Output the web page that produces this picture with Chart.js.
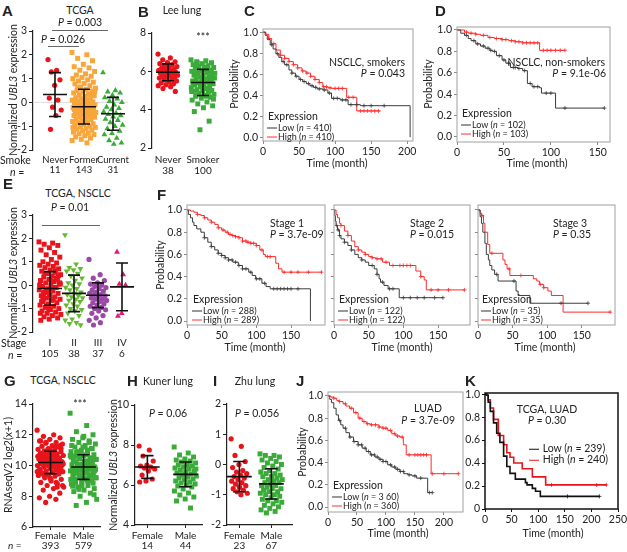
<!DOCTYPE html>
<html>
<head>
<meta charset="utf-8">
<script src="https://cdn.jsdelivr.net/npm/chart.js@4.4.0/dist/chart.umd.min.js"></script>
<style>
  body { margin: 0; background: #fff; }
  #fig { position: relative; width: 627px; height: 552px; overflow: hidden; font-family: Lato, 'Open Sans', sans-serif; color: #222; }
  #fig canvas { position: absolute; }
  .t { position: absolute; white-space: nowrap; font-size: 10.5px; line-height: 1; }
  .pl { font-family: 'Liberation Sans', Arial, sans-serif; font-weight: bold; font-size: 15px; }
  .lg { font-size: 9px; }
  .bar { position: absolute; height: 0; border-top: 1.4px solid #666; }
  .sw { display: inline-block; width: 10px; height: 0; border-top: 1px solid #333; vertical-align: middle; margin-right: 1px; }
</style>
</head>
<body>
<div id="fig"></div>
<script>
// ---- dot plots ----
const A_never = [1.8, 1.35, 1.28, 0.95, 0.72, 0.18, 0.1, -0.2, -0.32, -0.55, -1.13];
const A_former = [2.1, 2.0, 1.85, 1.75, 1.6, 1.5, 1.45, 1.35, 1.3, 1.2, 1.15, 1.1, 1.05, 1.0, 0.95, 0.9, 0.85, 0.8, 0.78, 0.7,
  0.65, 0.6, 0.55, 0.5, 0.48, 0.45, 0.4, 0.35, 0.3, 0.28, 0.25, 0.2, 0.18, 0.15, 0.1, 0.08, 0.05, 0.02, 0, -0.02,
  -0.05, -0.08, -0.1, -0.12, -0.15, -0.18, -0.2, -0.22, -0.25, -0.28, -0.3, -0.32, -0.35, -0.38, -0.4, -0.42, -0.45,
  -0.48, -0.5, -0.52, -0.55, -0.58, -0.6, -0.62, -0.65, -0.7, -0.72, -0.75, -0.8, -0.82, -0.85, -0.9, -0.92, -0.95,
  -1.0, -1.02, -1.05, -1.1, -1.12, -1.15, -1.2, -1.25, -1.3, -1.32, -1.35, -1.4, -1.45, -1.5, -1.55, -1.6, -1.7,
  0.6, 0.3, 0.0, -0.3, -0.6, -0.9, 0.45, 0.15, -0.15, -0.45, -0.75, -1.05];
const A_current = [1.25, 0.5, 0.45, 0.4, 0.3, 0.2, 0.15, 0.05, 0, -0.1, -0.2, -0.25, -0.3, -0.4, -0.45, -0.5, -0.55,
  -0.6, -0.7, -0.75, -0.85, -0.95, -1.0, -1.1, -1.2, -1.3, -1.35, -1.5, -1.6, -1.7, -1.75];
const A_mean = [0.33, -0.18, -0.48];
const A_sd = [0.92, 0.73, 0.69];

const B_never = [6.9, 6.7, 6.6, 6.5, 6.45, 6.4, 6.35, 6.3, 6.25, 6.2, 6.15, 6.1, 6.1, 6.05, 6.0, 6.0, 5.95, 5.95, 5.9,
  5.9, 5.85, 5.8, 5.8, 5.75, 5.7, 5.7, 5.65, 5.6, 5.55, 5.5, 5.45, 5.4, 5.35, 5.3, 5.25, 5.2, 5.1, 4.95];
const B_smoker = [6.6, 6.55, 6.5, 6.45, 6.4, 6.35, 6.3, 6.25, 6.2, 6.15, 6.1, 6.05, 6.0, 6.0, 5.95, 5.9, 5.85, 5.8,
  5.8, 5.75, 5.7, 5.65, 5.6, 5.6, 5.55, 5.5, 5.5, 5.45, 5.4, 5.35, 5.3, 5.3, 5.25, 5.2, 5.15, 5.1, 5.05, 5.0, 5.0,
  4.95, 4.9, 4.85, 4.8, 4.75, 4.7, 4.65, 4.6, 4.5, 4.4, 4.3, 4.2, 4.1, 3.9, 3.4, 2.95, 5.9, 6.1, 6.3, 6.0, 5.7, 5.4,
  5.1, 4.8, 4.55, 6.2, 5.85, 5.55, 5.25, 4.95, 4.7, 6.45, 5.65, 5.35];
const B_mean = [5.95, 5.42];
const B_sd = [0.44, 0.68];

const E_s1 = [1.85, 1.8, 1.75, 1.7, 1.6, 1.5, 1.4, 1.3, 1.2, 1.1, 1.0, 0.95, 0.9, 0.85, 0.8, 0.75, 0.7, 0.65, 0.6,
  0.55, 0.5, 0.45, 0.4, 0.35, 0.3, 0.25, 0.2, 0.15, 0.1, 0.05, 0, -0.05, -0.1, -0.15, -0.2, -0.25, -0.3, -0.35,
  -0.4, -0.45, -0.5, -0.55, -0.6, -0.65, -0.7, -0.75, -0.8, -0.85, -0.9, -0.95, -1.0, -1.05, -1.1, -1.15, -1.2,
  -1.25, -1.3, -1.35, -1.4, -1.45, -1.5, -0.1, -0.2, 0.1, 0.2, -0.5, 0.3, -0.3, 0.0, -0.6, 0.5, 0.4, -0.4, -0.7,
  0.6, -0.9, 0.05, -0.15, -0.35, 0.25, -1.0, -1.2];
const E_s2 = [2.15, 0.9, 0.75, 0.7, 0.65, 0.6, 0.5, 0.4, 0.3, 0.2, 0.1, 0.05, 0, -0.1, -0.15, -0.2, -0.3, -0.35,
  -0.4, -0.45, -0.5, -0.55, -0.6, -0.65, -0.7, -0.8, -0.85, -0.9, -1.0, -1.05, -1.1, -1.2, -1.3, -1.45, -1.5,
  -1.6, -1.65, -1.7];
const E_s3 = [1.1, 0.45, 0.3, 0.2, 0.1, 0.05, 0, -0.05, -0.1, -0.15, -0.2, -0.25, -0.3, -0.35, -0.4, -0.4, -0.45,
  -0.5, -0.55, -0.6, -0.6, -0.65, -0.7, -0.75, -0.8, -0.85, -0.9, -0.95, -1.0, -1.05, -1.1, -1.2, -1.3, -1.4,
  -1.5, -1.6, -1.7];
const E_s4 = [1.42, 0.45, 0.05, 0.0, -1.2, -1.32];
const E_mean = [-0.14, -0.35, -0.43, -0.07];
const E_sd = [0.72, 0.78, 0.53, 1.02];

const G_female = [12.3, 12.0, 11.9, 11.8, 11.7, 11.6, 11.5, 11.45, 11.4, 11.3, 11.25, 11.2, 11.1, 11.05, 11.0, 10.95,
  10.9, 10.85, 10.8, 10.75, 10.7, 10.65, 10.6, 10.55, 10.5, 10.45, 10.4, 10.35, 10.3, 10.25, 10.2, 10.15, 10.1,
  10.05, 10.0, 9.95, 9.9, 9.85, 9.8, 9.75, 9.7, 9.65, 9.6, 9.55, 9.5, 9.45, 9.4, 9.35, 9.3, 9.2, 9.1, 9.0, 8.9,
  8.8, 8.7, 8.6, 8.5, 8.4, 8.2, 8.0, 7.9, 7.8, 7.6, 10.2, 10.3, 10.1, 10.4, 10.0, 10.6, 9.9, 10.7, 9.8, 11.0, 9.6,
  10.5, 10.3, 10.1, 9.9, 10.5, 9.7, 10.8, 9.5, 11.2, 9.3, 10.0, 10.2, 10.4, 9.8, 10.6, 9.6, 10.9, 9.4, 11.3, 9.2,
  10.7, 8.9, 11.5, 8.7, 10.15, 10.35, 9.85, 10.55, 9.65, 10.25, 10.05, 11.1, 9.1, 11.6, 8.6, 10.45];
const G_male = [13.4, 12.6, 12.2, 12.0, 11.8, 11.7, 11.6, 11.5, 11.4, 11.3, 11.2, 11.1, 11.0, 10.9, 10.85, 10.8,
  10.7, 10.65, 10.6, 10.5, 10.45, 10.4, 10.3, 10.25, 10.2, 10.1, 10.05, 10.0, 9.95, 9.9, 9.85, 9.8, 9.75, 9.7,
  9.65, 9.6, 9.55, 9.5, 9.45, 9.4, 9.35, 9.3, 9.2, 9.15, 9.1, 9.0, 8.9, 8.8, 8.7, 8.6, 8.5, 8.4, 8.3, 8.2, 8.0,
  7.8, 7.6, 7.4, 9.9, 10.0, 9.8, 10.2, 9.7, 10.4, 9.5, 10.6, 9.3, 10.8, 9.1, 11.0, 10.1, 9.9, 9.6, 10.3, 9.4, 10.5,
  9.2, 10.7, 8.9, 11.1, 8.7, 11.3, 9.85, 10.05, 9.65, 10.25, 9.45, 10.45, 9.25, 10.65, 9.05, 10.85, 8.85, 11.2,
  8.65, 11.5, 8.45, 9.75, 10.15, 9.55, 10.35, 9.35, 10.55, 9.0, 10.9, 8.1, 11.9];
const G_mean = [10.2, 9.9];
const G_sd = [0.73, 0.8];

const H_female = [7.95, 7.75, 7.45, 7.2, 7.0, 6.95, 6.9, 6.85, 6.8, 6.7, 6.5, 6.3, 6.2, 6.15];
const H_male = [7.9, 7.6, 7.5, 7.4, 7.3, 7.25, 7.2, 7.15, 7.1, 7.05, 7.0, 6.95, 6.9, 6.85, 6.8, 6.75, 6.7, 6.65,
  6.6, 6.55, 6.5, 6.45, 6.4, 6.35, 6.3, 6.25, 6.2, 6.15, 6.1, 6.05, 6.0, 5.95, 5.9, 5.8, 5.7, 5.6, 5.5, 5.4, 5.3,
  5.2, 4.85, 6.5, 6.8, 7.0];
const H_mean = [6.9, 6.53];
const H_sd = [0.57, 0.62];

const I_female = [0.85, 0.6, 0.3, 0.1, 0.0, -0.1, -0.2, -0.25, -0.3, -0.35, -0.4, -0.45, -0.5, -0.55, -0.6, -0.65,
  -0.7, -0.75, -0.8, -0.85, -0.9, -0.95, -1.0];
const I_male = [0.35, 0.3, 0.3, 0.25, 0.2, 0.15, 0.1, 0.05, 0, -0.05, -0.1, -0.15, -0.2, -0.25, -0.3, -0.3, -0.35,
  -0.4, -0.4, -0.45, -0.5, -0.5, -0.55, -0.6, -0.6, -0.65, -0.7, -0.7, -0.75, -0.8, -0.8, -0.85, -0.9, -0.9, -0.95,
  -1.0, -1.0, -1.05, -1.1, -1.15, -1.2, -1.2, -1.25, -1.3, -1.35, -1.4, -1.45, -1.5, -1.55, -1.6];
const I_mean = [-0.4, -0.64];
const I_sd = [0.5, 0.5];

// ---- Kaplan-Meier curves: time (month) and survival from that time on ----
const C_low_t = [0, 3, 6, 10, 14, 18, 22, 26, 30, 36, 40, 45, 50, 55, 60, 65, 70, 75, 83, 90, 95, 107, 118, 135, 204];
const C_low_s = [1, 0.97, 0.93, 0.88, 0.84, 0.795, 0.76, 0.72, 0.69, 0.64, 0.61, 0.58, 0.55, 0.53, 0.51, 0.49, 0.475, 0.46, 0.45, 0.42, 0.37, 0.355, 0.31, 0.3, 0];
const C_low_cens = [12, 20, 28, 33, 40, 46, 52, 57, 63, 68, 73, 78, 85, 92, 98, 103, 110, 115, 122, 130, 140, 150, 168];
const C_high_t = [0, 4, 8, 12, 18, 24, 30, 36, 42, 48, 54, 60, 66, 72, 78, 83, 90, 95, 116, 130, 163];
const C_high_s = [1, 0.98, 0.94, 0.89, 0.83, 0.78, 0.75, 0.72, 0.69, 0.66, 0.63, 0.61, 0.58, 0.55, 0.52, 0.48, 0.47, 0.465, 0.38, 0.25, 0.25];
const C_high_cens = [8, 15, 24, 30, 36, 42, 48, 55, 61, 66, 72, 78, 84, 88, 93, 100, 105, 110, 119, 125, 135, 140, 145, 150, 155, 160];

const D_low_t = [0, 4, 8, 12, 15, 20, 25, 30, 35, 38, 42, 48, 52, 57, 65, 70, 75, 80, 88, 90, 105, 157];
const D_low_s = [1, 0.97, 0.95, 0.92, 0.9, 0.87, 0.85, 0.83, 0.81, 0.8, 0.76, 0.72, 0.69, 0.65, 0.64, 0.62, 0.5, 0.47, 0.46, 0.41, 0.27, 0.27];
const D_low_cens = [10, 18, 22, 28, 33, 36, 40, 45, 50, 55, 60, 62, 66, 72, 78, 82, 86, 95, 100, 115, 157];
const D_high_t = [0, 8, 12, 20, 25, 33, 40, 48, 55, 62, 70, 88, 115];
const D_high_s = [1, 0.98, 0.97, 0.96, 0.95, 0.93, 0.92, 0.91, 0.9, 0.89, 0.88, 0.81, 0.81];
const D_high_cens = [10, 15, 20, 28, 35, 42, 48, 52, 58, 62, 66, 70, 74, 78, 82, 86, 92, 96, 100, 105, 110, 115];

const F1_low_t = [0, 2, 5, 8, 10, 14, 20, 25, 30, 35, 40, 45, 50, 55, 60, 66, 74, 80, 89, 94, 99, 108, 114, 120, 178];
const F1_low_s = [1, 0.96, 0.93, 0.89, 0.86, 0.83, 0.8, 0.75, 0.71, 0.67, 0.64, 0.61, 0.59, 0.57, 0.55, 0.53, 0.5, 0.47, 0.44, 0.41, 0.38, 0.34, 0.31, 0.29, 0];
const F1_low_cens = [25, 35, 45, 50, 55, 60, 65, 70, 75, 80, 85, 92, 100, 105, 112, 125, 130, 135, 140, 145, 150, 160];
const F1_high_t = [0, 5, 10, 15, 20, 25, 30, 35, 40, 45, 50, 55, 60, 65, 70, 75, 80, 86, 92, 100, 105, 110, 113, 128, 132, 137, 194];
const F1_high_s = [1, 0.99, 0.98, 0.96, 0.95, 0.93, 0.91, 0.89, 0.87, 0.84, 0.82, 0.8, 0.78, 0.77, 0.76, 0.75, 0.72, 0.71, 0.7, 0.68, 0.64, 0.6, 0.58, 0.52, 0.47, 0.44, 0.44];
const F1_high_cens = [15, 25, 35, 45, 52, 58, 62, 66, 70, 75, 80, 85, 88, 92, 96, 100, 108, 116, 120, 140, 150, 160, 175, 194];

const F2_low_t = [0, 1, 2, 3, 5, 8, 10, 15, 20, 25, 30, 35, 40, 45, 50, 58, 62, 65, 67, 72, 78, 94, 157];
const F2_low_s = [1, 0.95, 0.9, 0.86, 0.82, 0.77, 0.74, 0.71, 0.68, 0.64, 0.6, 0.57, 0.55, 0.53, 0.5, 0.47, 0.42, 0.38, 0.35, 0.32, 0.29, 0.21, 0.21];
const F2_low_cens = [4, 6, 8, 15, 25, 40, 55, 62, 70, 80, 85, 100, 110, 120, 130, 145, 157];
const F2_high_t = [0, 3, 5, 8, 10, 15, 20, 25, 30, 35, 40, 45, 50, 55, 60, 70, 80, 118, 125, 130, 133, 188];
const F2_high_s = [1, 0.96, 0.93, 0.88, 0.86, 0.81, 0.77, 0.72, 0.67, 0.64, 0.62, 0.6, 0.58, 0.57, 0.56, 0.53, 0.5, 0.45, 0.4, 0.37, 0.28, 0.28];
const F2_high_cens = [10, 20, 35, 45, 55, 62, 68, 75, 85, 95, 100, 105, 110, 125, 140, 150, 165, 188];

const F3_low_t = [0, 3, 5, 7, 10, 12, 15, 17, 20, 24, 29, 55, 58, 75, 159];
const F3_low_s = [1, 0.94, 0.88, 0.8, 0.7, 0.6, 0.55, 0.5, 0.46, 0.42, 0.36, 0.27, 0.23, 0.16, 0.16];
const F3_low_cens = [27, 52, 120, 159];
const F3_high_t = [0, 3, 5, 8, 10, 14, 17, 36, 39, 42, 46, 80, 85, 89, 95, 101, 106, 123, 191];
const F3_high_s = [1, 0.97, 0.95, 0.88, 0.8, 0.69, 0.61, 0.55, 0.51, 0.47, 0.41, 0.38, 0.36, 0.33, 0.3, 0.27, 0.23, 0.08, 0.08];
const F3_high_cens = [6, 20, 45, 62, 90, 95, 191];

const J_low_t = [0, 3, 6, 10, 14, 18, 22, 26, 31, 37, 44, 52, 59, 66, 73, 81, 88, 95, 103, 110, 117, 124, 131, 138, 145, 153, 172, 180];
const J_low_s = [1, 0.97, 0.94, 0.89, 0.83, 0.78, 0.74, 0.71, 0.67, 0.63, 0.59, 0.56, 0.53, 0.5, 0.47, 0.45, 0.43, 0.41, 0.38, 0.36, 0.34, 0.32, 0.3, 0.29, 0.28, 0.26, 0.13, 0.13];
const J_low_cens = [20, 30, 38, 45, 52, 58, 64, 70, 75, 80, 85, 90, 95, 100, 108, 115, 120, 125, 130, 140, 150, 160, 175, 180];
const J_high_t = [0, 5, 10, 15, 20, 26, 31, 37, 44, 52, 59, 66, 73, 81, 88, 95, 103, 110, 117, 124, 130, 135, 178, 225];
const J_high_s = [1, 0.99, 0.98, 0.96, 0.95, 0.93, 0.91, 0.89, 0.85, 0.8, 0.77, 0.75, 0.74, 0.74, 0.72, 0.71, 0.69, 0.66, 0.64, 0.63, 0.56, 0.47, 0.3, 0.3];
const J_high_cens = [10, 20, 30, 40, 48, 55, 62, 68, 75, 82, 88, 95, 100, 108, 115, 120, 128, 140, 150, 155, 160, 165, 170, 180, 200, 225];

const K_low_t = [0, 3, 6, 10, 16, 22, 28, 35, 41, 47, 57, 76, 79, 89, 95, 104, 215];
const K_low_s = [1, 0.99, 0.93, 0.85, 0.75, 0.66, 0.58, 0.46, 0.37, 0.31, 0.26, 0.23, 0.21, 0.18, 0.155, 0.11, 0.11];
const K_low_cens = [155, 215];
const K_high_t = [0, 3, 6, 10, 16, 25, 35, 41, 47, 54, 70, 89, 114, 228];
const K_high_s = [1, 0.99, 0.95, 0.88, 0.78, 0.64, 0.56, 0.49, 0.45, 0.4, 0.35, 0.28, 0.21, 0.21];
const K_high_cens = [125, 210, 228];

const KM_YTICKS = [0, 0.2, 0.4, 0.6, 0.8, 1.0];
const KM_XTICKS = [0, 50, 100, 150, 200, 250];

const RED = '#e8141c', GREEN = '#3aab38', ORANGE = '#f8a53a';
const KM_LOW = '#3c3c3c', KM_HIGH = '#ff2a2a';

Chart.defaults.font.family = "Lato, 'Open Sans', sans-serif";
Chart.defaults.font.size = 10.5;
Chart.defaults.color = '#222';
Chart.defaults.animation = false;

const fig = document.getElementById('fig');

function note(x, y, html, a, cls, size) {
  const d = document.createElement('div');
  d.className = 't ' + (cls || '');
  d.innerHTML = html;
  d.style.left = x + 'px';
  d.style.top = y + 'px';
  if (size) d.style.fontSize = size + 'px';
  if (a === 'v') d.style.transform = 'translate(-50%,-50%) rotate(-90deg)';
  else d.style.transform = 'translate(' + (a === 'l' ? '0' : a === 'r' ? '-100%' : '-50%') + ',-50%)';
  fig.appendChild(d);
}

function bracket(x1, x2, y) {
  const d = document.createElement('div');
  d.className = 'bar';
  d.style.left = x1 + 'px';
  d.style.top = y + 'px';
  d.style.width = (x2 - x1) + 'px';
  fig.appendChild(d);
}

function legend(x, y, low, high) {
  note(x, y, 'Expression', 'l');
  note(x - 1, y + 11, '<span class="sw"></span>Low (<i>n</i> = ' + low + ')', 'l', 'lg');
  note(x - 1, y + 20, '<span class="sw" style="border-color:#ff3030"></span>High (<i>n</i> = ' + high + ')', 'l', 'lg');
}

// canvas placed so that its chart area lands on area = [left, top, right, bottom]
function canvasFor(area, pad) {
  const c = document.createElement('canvas');
  const w = area[2] - area[0] + pad[0] + pad[2];
  const h = area[3] - area[1] + pad[1] + pad[3];
  c.width = w; c.height = h;
  c.style.left = (area[0] - pad[0]) + 'px';
  c.style.top = (area[1] - pad[1]) + 'px';
  c.style.width = w + 'px'; c.style.height = h + 'px';
  fig.appendChild(c);
  return c;
}

const framePlugin = {
  id: 'frame',
  afterDatasetsDraw(chart, args, o) {
    if (!o || !o.color) return;
    const { ctx, chartArea: a } = chart;
    ctx.save();
    ctx.strokeStyle = o.color;
    ctx.lineWidth = o.width;
    ctx.strokeRect(a.left, a.top, a.right - a.left, a.bottom - a.top);
    ctx.restore();
  }
};

const radiusFor = { circle: 2.6, rect: 3.5, triangle: 3.4 };

function dotPlot(area, o) {
  const YW = 24, XH = 30;
  const c = canvasFor(area, [YW, 9, 14, XH]);
  const xmin = -(o.p0 - area[0]) / o.u;
  const xmax = xmin + (area[2] - area[0]) / o.u;
  const ds = [];
  o.groups.forEach((vals, g) => {
    const sp = o.spread[g] / o.u;
    ds.push({
      data: vals.map((v, i) => ({ x: g + (((i * 0.618034) % 1) - 0.5) * 2 * sp, y: v })),
      pointStyle: o.shapes[g],
      rotation: o.rot ? o.rot[g] : 0,
      pointRadius: radiusFor[o.shapes[g]],
      backgroundColor: o.colors[g],
      borderColor: o.colors[g],
      borderWidth: 0,
      order: 1
    });
  });
  const eb = [];
  const mw = 12 / o.u, cw = 6 / o.u;
  o.mean.forEach((m, g) => {
    const lo = m - o.sd[g], hi = m + o.sd[g];
    eb.push({ x: g - mw, y: m }, { x: g + mw, y: m }, { x: g, y: null },
            { x: g, y: lo }, { x: g, y: hi }, { x: g, y: null },
            { x: g - cw, y: hi }, { x: g + cw, y: hi }, { x: g, y: null },
            { x: g - cw, y: lo }, { x: g + cw, y: lo }, { x: g, y: null });
  });
  ds.push({ type: 'line', data: eb, borderColor: '#111', borderWidth: 1.6, pointRadius: 0, spanGaps: false, order: 0 });
  if (o.zero) {
    ds.push({ type: 'line', data: [{ x: xmin, y: 0 }, { x: xmax, y: 0 }], borderColor: '#dcdcdc', borderWidth: 1, pointRadius: 0, order: 2 });
  }
  new Chart(c, {
    type: 'scatter',
    data: { datasets: ds },
    options: {
      responsive: false,
      layout: { padding: { top: 9, right: 14 } },
      plugins: { legend: { display: false }, tooltip: { enabled: false } },
      scales: {
        x: {
          type: 'linear', min: xmin, max: o.xaxis ? xmin + (o.axisEnd - area[0]) / o.u : xmax,
          afterBuildTicks: s => { s.ticks = o.labels.map((_, i) => ({ value: i })); },
          afterFit: s => { s.height = XH; },
          ticks: {
            callback: v => o.labels[Math.round(v)], autoSkip: false, maxRotation: 0, padding: o.lpad,
            font: { size: o.xfont || 10, lineHeight: o.xaxis ? 1.0 : 1.15 }
          },
          grid: o.xaxis ? { drawOnChartArea: false, tickLength: 3, color: '#222' } : { display: false, drawTicks: false },
          border: { display: !!o.xaxis, color: '#222', width: 1.2 }
        },
        y: {
          min: o.ymin, max: o.ymax,
          afterFit: s => { s.width = YW; },
          ticks: { stepSize: o.step, padding: 2 },
          grid: { drawOnChartArea: false, tickLength: 4, color: '#222' },
          border: { color: '#222', width: 1.2 }
        }
      }
    }
  });
}

function stepAt(ts, ss, t) {
  let v = ss[0];
  for (let i = 0; i < ts.length; i++) if (ts[i] <= t) v = ss[i];
  return v;
}

function kmPlot(area, o) {
  const YW = 26, XH = 18;
  const c = canvasFor(area, [YW, 9, 14, XH]);
  const ds = [];
  o.curves.forEach(cv => {
    ds.push({
      type: 'line', data: cv.t.map((t, i) => ({ x: t, y: cv.s[i] })), stepped: 'before',
      borderColor: cv.color, borderWidth: o.lw || 1, pointRadius: 0, fill: false, order: 1
    });
    ds.push({
      type: 'scatter', data: cv.cens.map(t => ({ x: t, y: stepAt(cv.t, cv.s, t) })),
      pointStyle: 'cross', pointRadius: 2, borderColor: cv.color, borderWidth: 0.8, order: 0
    });
  });
  const tick = o.tick || '#8a8a8a';
  new Chart(c, {
    type: 'scatter',
    data: { datasets: ds },
    plugins: [framePlugin],
    options: {
      responsive: false,
      layout: { padding: { top: 9, right: 14 } },
      plugins: {
        legend: { display: false }, tooltip: { enabled: false },
        frame: { color: o.frame || '#a0a0a0', width: o.fw || 1 }
      },
      scales: {
        x: {
          min: 0, max: o.xmax,
          afterBuildTicks: s => { s.ticks = KM_XTICKS.filter(v => v <= o.xmax).map(v => ({ value: v })); },
          afterFit: s => { s.height = XH; },
          ticks: { padding: 1, maxRotation: 0, autoSkip: false },
          grid: { drawOnChartArea: false, tickLength: 3, color: tick },
          border: { display: false }
        },
        y: {
          min: o.ymin, max: o.ymax,
          afterBuildTicks: s => { s.ticks = KM_YTICKS.map(v => ({ value: v })); },
          afterFit: s => { s.width = YW; },
          ticks: {
            padding: 2, autoSkip: false,
            callback: v => o.noY ? '' : (o.zero0 && v === 0 ? '0' : v.toFixed(1))
          },
          grid: { drawOnChartArea: false, tickLength: 3, color: tick },
          border: { display: false }
        }
      }
    }
  });
}

// ---- A ----
dotPlot([33, 31, 128, 150], {
  p0: 55, u: 29, ymin: -2, ymax: 3, step: 1, zero: true, lpad: 4, xfont: 9.5,
  groups: [A_never, A_former, A_current], colors: [RED, ORANGE, GREEN], shapes: ['circle', 'rect', 'triangle'],
  spread: [7, 12, 10], mean: A_mean, sd: A_sd,
  labels: [['Never', '11'], ['Former', '143'], ['Current', '31']]
});
note(2, 10, 'A', 'l', 'pl');
note(80, 10, 'TCGA', 'c');
note(80, 22, '<i>P</i> = 0.003', 'c');
bracket(52, 108, 30);
note(63, 39, '<i>P</i> = 0.026', 'c');
bracket(48, 79, 46);
note(0, 160, 'Smoke', 'l');
note(10, 172, '<i>n</i> =', 'l');
note(13, 90, 'Normalized <i>UBL3</i> expression', 'v');

// ---- B ----
dotPlot([152, 33, 225, 148], {
  p0: 168, u: 35, ymin: 2, ymax: 8, step: 2, lpad: 6,
  groups: [B_never, B_smoker], colors: [RED, GREEN], shapes: ['circle', 'rect'],
  spread: [10, 12], mean: B_mean, sd: B_sd,
  labels: [['Never', '38'], ['Smoker', '100']]
});
note(138, 11, 'B', 'l', 'pl');
note(182, 10, 'Lee lung', 'c');
note(203, 37, '***', 'c');

// ---- C ----
kmPlot([263, 29, 413, 141], {
  xmax: 208, ymin: -0.036, ymax: 1.03,
  curves: [
    { t: C_low_t, s: C_low_s, cens: C_low_cens, color: KM_LOW },
    { t: C_high_t, s: C_high_s, cens: C_high_cens, color: KM_HIGH }
  ]
});
note(244, 10, 'C', 'l', 'pl');
note(234, 84, 'Probability', 'v');
note(405, 62, 'NSCLC, smokers', 'r');
note(405, 73, '<i>P</i> = 0.043', 'r');
legend(268, 116, '410', '410');
note(337, 163, 'Time (month)', 'c');

// ---- D ----
kmPlot([457, 27, 610, 142], {
  xmax: 163, ymin: -0.047, ymax: 1.028,
  curves: [
    { t: D_low_t, s: D_low_s, cens: D_low_cens, color: KM_LOW },
    { t: D_high_t, s: D_high_s, cens: D_high_cens, color: KM_HIGH }
  ]
});
note(435, 10, 'D', 'l', 'pl');
note(428, 84, 'Probability', 'v');
note(605, 62, 'NSCLC, non-smokers', 'r');
note(606, 73, '<i>P</i> = 9.1e-06', 'r');
legend(462, 113, '102', '103');
note(537, 163, 'Time (month)', 'c');

// ---- E ----
dotPlot([33, 215, 135, 332], {
  p0: 50, u: 24, ymin: -2, ymax: 3, step: 1, lpad: 5,
  groups: [E_s1, E_s2, E_s3, E_s4], colors: [RED, '#66b832', '#9a4aa6', '#e6157c'],
  shapes: ['rect', 'triangle', 'circle', 'triangle'], rot: [0, 180, 0, 0],
  spread: [11, 9, 9, 5], mean: E_mean, sd: E_sd,
  labels: [['I', '105'], ['II', '38'], ['III', '37'], ['IV', '6']]
});
note(3, 183, 'E', 'l', 'pl');
note(78, 193, 'TCGA, NSCLC', 'c');
note(70, 207, '<i>P</i> = 0.01', 'c');
bracket(42, 100, 225);
note(1, 343, 'Stage', 'l');
note(8, 355, '<i>n</i> =', 'l');
note(13, 273, 'Normalized <i>UBL3</i> expression', 'v');

// ---- F ----
kmPlot([187, 205, 325, 325], {
  xmax: 199, ymin: -0.036, ymax: 1.045,
  curves: [
    { t: F1_low_t, s: F1_low_s, cens: F1_low_cens, color: KM_LOW },
    { t: F1_high_t, s: F1_high_s, cens: F1_high_cens, color: KM_HIGH }
  ]
});
kmPlot([334, 205, 470, 325], {
  xmax: 196, ymin: -0.036, ymax: 1.045, noY: true,
  curves: [
    { t: F2_low_t, s: F2_low_s, cens: F2_low_cens, color: KM_LOW },
    { t: F2_high_t, s: F2_high_s, cens: F2_high_cens, color: KM_HIGH }
  ]
});
kmPlot([478, 205, 615, 325], {
  xmax: 198, ymin: -0.036, ymax: 1.045, noY: true,
  curves: [
    { t: F3_low_t, s: F3_low_s, cens: F3_low_cens, color: KM_LOW },
    { t: F3_high_t, s: F3_high_s, cens: F3_high_cens, color: KM_HIGH }
  ]
});
note(157, 194, 'F', 'l', 'pl');
note(160, 265, 'Probability', 'v');
note(270, 223, 'Stage 1', 'l');
note(270, 234, '<i>P</i> = 3.7e-09', 'l');
legend(193, 299, '288', '289');
note(255, 347, 'Time (month)', 'c');
note(410, 223, 'Stage 2', 'l');
note(410, 234, '<i>P</i> = 0.015', 'l');
legend(339, 299, '122', '122');
note(402, 347, 'Time (month)', 'c');
note(553, 223, 'Stage 3', 'l');
note(553, 234, '<i>P</i> = 0.35', 'l');
legend(482, 299, '35', '35');
note(545, 347, 'Time (month)', 'c');

// ---- G ----
dotPlot([33, 404, 100, 527], {
  p0: 50, u: 32, ymin: 6, ymax: 14, step: 2, lpad: 1, xaxis: true, axisEnd: 98,
  groups: [G_female, G_male], colors: [RED, GREEN], shapes: ['circle', 'rect'],
  spread: [13, 13], mean: G_mean, sd: G_sd,
  labels: [['Female', '393'], ['Male', '579']]
});
note(4, 380, 'G', 'l', 'pl');
note(63, 380, 'TCGA, NSCLC', 'c');
note(80, 404, '***', 'c');
note(8, 545, '<i>n</i> =', 'l', '', 10);
note(8, 465, 'RNAseqV2 log2(x+1)', 'v');

// ---- H ----
dotPlot([135, 405, 202, 525], {
  p0: 147, u: 37, ymin: 4, ymax: 10, step: 2, lpad: 3, xaxis: true, axisEnd: 200,
  groups: [H_female, H_male], colors: [RED, GREEN], shapes: ['circle', 'rect'],
  spread: [8, 11], mean: H_mean, sd: H_sd,
  labels: [['Female', '14'], ['Male', '44']]
});
note(127, 380, 'H', 'l', 'pl');
note(168, 381, 'Kuner lung', 'c');
note(168, 413, '<i>P</i> = 0.06', 'c');
note(113, 465, 'Normalized <i>UBL3</i> expression', 'v');

// ---- I ----
dotPlot([227, 404, 292, 525], {
  p0: 239, u: 31, ymin: -2, ymax: 2, step: 1, lpad: 3, xaxis: true, axisEnd: 290,
  groups: [I_female, I_male], colors: [RED, GREEN], shapes: ['circle', 'rect'],
  spread: [8, 11], mean: I_mean, sd: I_sd,
  labels: [['Female', '23'], ['Male', '67']]
});
note(213, 380, 'I', 'l', 'pl');
note(255, 381, 'Zhu lung', 'c');
note(257, 413, '<i>P</i> = 0.056', 'c');

// ---- J ----
kmPlot([328, 392, 463, 512], {
  xmax: 233, ymin: -0.045, ymax: 1.036,
  curves: [
    { t: J_low_t, s: J_low_s, cens: J_low_cens, color: KM_LOW },
    { t: J_high_t, s: J_high_s, cens: J_high_cens, color: KM_HIGH }
  ]
});
note(296, 380, 'J', 'l', 'pl');
note(302, 452, 'Probability', 'v');
note(428, 408, 'LUAD', 'c');
note(455, 420, '<i>P</i> = 3.7e-09', 'r');
legend(333, 485, '3 60', '360');
note(398, 533, 'Time (month)', 'c');

// ---- K ----
kmPlot([485, 393, 618, 509], {
  xmax: 250, ymin: 0, ymax: 1.01, zero0: true, lw: 1.6, frame: '#111', fw: 1.5, tick: '#111',
  curves: [
    { t: K_low_t, s: K_low_s, cens: K_low_cens, color: '#111' },
    { t: K_high_t, s: K_high_s, cens: K_high_cens, color: RED }
  ]
});
note(465, 380, 'K', 'l', 'pl');
note(547, 409, 'TCGA, LUAD', 'c');
note(547, 420, '<i>P</i> = 0.30', 'c');
note(529, 448, '<span class="sw" style="border-top:1.6px solid #111"></span> Low (<i>n</i> = 239)', 'l');
note(529, 459, '<span class="sw" style="border-top:1.6px solid ' + RED + '"></span> High (<i>n</i> = 240)', 'l');
note(553, 533, 'Time (month)', 'c');
</script>
</body>
</html>
